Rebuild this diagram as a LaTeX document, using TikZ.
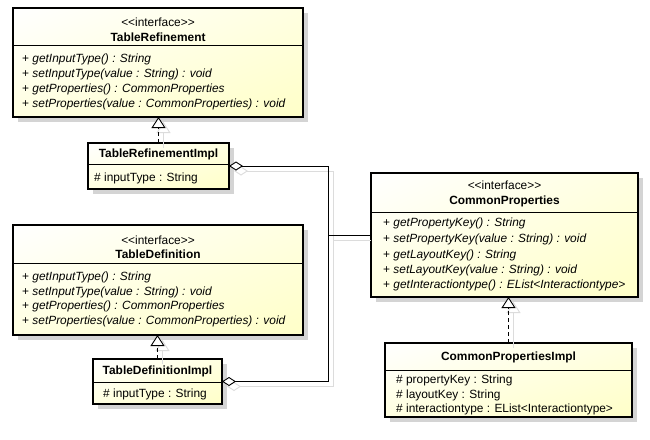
\documentclass[tikz,border=0pt]{standalone}
\usepackage{fontspec}
\setmainfont{Liberation Sans}
\usetikzlibrary{arrows.meta,shadows,shadings,backgrounds}
\definecolor{umly}{RGB}{255,255,200}
\definecolor{shgrey}{RGB}{212,212,212}
\definecolor{lineshadow}{RGB}{220,220,220}
\newcommand{\stereo}{<\kern0pt<interface>\kern0pt>}
\begin{document}
\begin{tikzpicture}[x=1pt,y=-1pt,
  box/.style={draw=black, line width=2pt, outer sep=0pt, inner sep=0pt, anchor=north west,
    upper left=white, upper right=umly!55, lower left=umly!55, lower right=umly,
    general shadow={fill=shgrey, shadow xshift=5pt, shadow yshift=-5pt}},
  divider/.style={line width=0.9pt},
  txt/.style={anchor=west, inner sep=0pt, font=\fontsize{11.9}{13}\selectfont},
  ctxt/.style={anchor=center, inner sep=0pt, font=\fontsize{11.9}{13}\selectfont},
  conn/.style={line width=0.9pt},
  realize/.style={conn, dash pattern=on 4pt off 3pt, -{Triangle[open, fill=white, length=11pt, width=14pt]}},
  aggr/.style={conn, {Diamond[open, fill=white, length=14pt, width=9pt]}-},
  shadowcopy/.style={draw=lineshadow, transform canvas={xshift=5pt, yshift=-5pt}}
]
\useasboundingbox (0,0) rectangle (650,439);

% ---------- TableRefinement ----------
\node[box, minimum width=290pt, minimum height=109pt] (tr) at (13,8) {};
\draw[divider] (13,45) -- (303,45);
\node[ctxt] (trs) at (158,22) {\stereo};
\node[ctxt] (trn) at (158,37) {\textbf{TableRefinement}};
\node[txt] (tr1) at (22,59) {+ \textit{getInputType() : String}};
\node[txt] (tr2) at (22,74) {+ \textit{setInputType(value : String) : void}};
\node[txt] (tr3) at (22,89) {+ \textit{getProperties() : CommonProperties}};
\node[txt] (tr4) at (22,104) {+ \textit{setProperties(value : CommonProperties) : void}};

% ---------- TableRefinementImpl ----------
\node[box, minimum width=141pt, minimum height=46pt] (tri) at (88,143) {};
\draw[divider] (88,164) -- (229,164);
\node[ctxt] (trin) at (158.5,154) {\textbf{TableRefinementImpl}};
\node[txt] (tri1) at (94,178) {\# inputType : String};

% ---------- TableDefinition ----------
\node[box, minimum width=290pt, minimum height=110pt] (td) at (13,225) {};
\draw[divider] (13,263) -- (303,263);
\node[ctxt] (tds) at (158,240) {\stereo};
\node[ctxt] (tdn) at (158,254) {\textbf{TableDefinition}};
\node[txt] (td1) at (22,277) {+ \textit{getInputType() : String}};
\node[txt] (td2) at (22,292) {+ \textit{setInputType(value : String) : void}};
\node[txt] (td3) at (22,306) {+ \textit{getProperties() : CommonProperties}};
\node[txt] (td4) at (22,321) {+ \textit{setProperties(value : CommonProperties) : void}};

% ---------- TableDefinitionImpl ----------
\node[box, minimum width=129pt, minimum height=45pt] (tdi) at (93,359) {};
\draw[divider] (93,382) -- (222,382);
\node[ctxt] (tdin) at (157.5,371) {\textbf{TableDefinitionImpl}};
\node[txt] (tdi1) at (103,394) {\# inputType : String};

% ---------- CommonProperties ----------
\node[box, minimum width=267pt, minimum height=124pt] (cp) at (371,173) {};
\draw[divider] (371,212) -- (638,212);
\node[ctxt] (cps) at (504.5,185) {\stereo};
\node[ctxt] (cpn) at (504.5,201) {\textbf{CommonProperties}};
\node[txt] (cp1) at (383,223) {+ \textit{getPropertyKey() : String}};
\node[txt] (cp2) at (383,239) {+ \textit{setPropertyKey(value : String) : void}};
\node[txt] (cp3) at (383,255) {+ \textit{getLayoutKey() : String}};
\node[txt] (cp4) at (383,270) {+ \textit{setLayoutKey(value : String) : void}};
\node[txt] (cp5) at (383,285) {+ \textit{getInteractiontype() : EList<Interactiontype>}};

% ---------- CommonPropertiesImpl ----------
\node[box, minimum width=247pt, minimum height=74pt] (cpi) at (385,343) {};
\draw[divider] (385,370) -- (632,370);
\node[ctxt] (cpin) at (508.5,357) {\textbf{CommonPropertiesImpl}};
\node[txt] (cpi1) at (396,380) {\# propertyKey : String};
\node[txt] (cpi2) at (396,395) {\# layoutKey : String};
\node[txt] (cpi3) at (396,409) {\# interactiontype : EList<Interactiontype>};

% ---------- connectors ----------
\begin{scope}[on background layer]
  \fill[white] (0,0) rectangle (650,439);
\end{scope}
\coordinate (jm) at (328,235);
% grey shadows of connectors
\draw[aggr, shadowcopy] (tri.east) -| (jm);
\draw[aggr, shadowcopy] (tdi.east) -| (jm);
\draw[conn, shadowcopy] (jm) -- ([xshift=-5pt]cp.west);
\draw[conn, shadowcopy, -{Triangle[open, fill=white, length=11pt, width=14pt]}] (tri.north) -- (tri.north |- tr.south);
\draw[conn, shadowcopy, -{Triangle[open, fill=white, length=11pt, width=14pt]}] (tdi.north) -- (tdi.north |- td.south);
\draw[conn, shadowcopy, -{Triangle[open, fill=white, length=11pt, width=14pt]}] (cpi.north) -- (cpi.north |- cp.south);
% connectors
\draw[aggr] (tri.east) -| (jm);
\draw[aggr] (tdi.east) -| (jm);
\draw[conn] (jm) -- (cp.west);
\draw[realize] (tri.north) -- (tri.north |- tr.south);
\draw[realize] (tdi.north) -- (tdi.north |- td.south);
\draw[realize] (cpi.north) -- (cpi.north |- cp.south);
\end{tikzpicture}
\end{document}
